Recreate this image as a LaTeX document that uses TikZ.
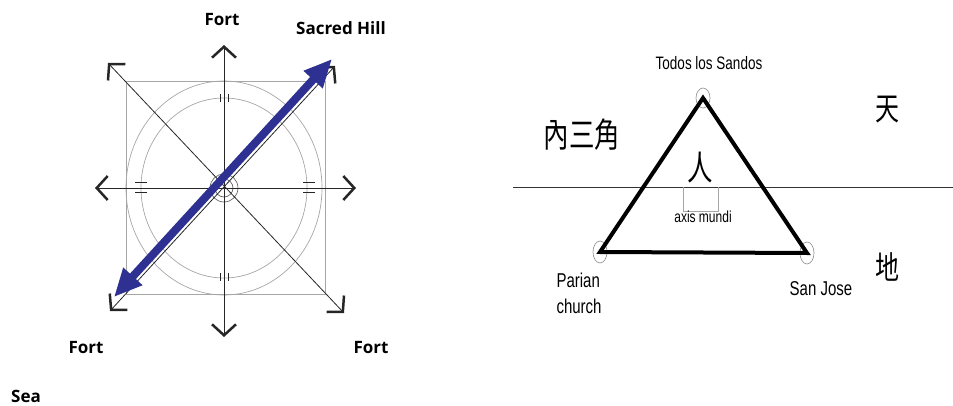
\documentclass[tikz,border=0pt]{standalone}
\usepackage{fontspec}
\setmainfont{Liberation Sans}
\newfontfamily\labelfont{Open Sans}
\newfontfamily\cjk{Noto Sans CJK TC}
\usetikzlibrary{arrows.meta,shapes.geometric}
\definecolor{hillblue}{RGB}{46,49,146}
\newcommand{\squeeze}[1]{\scalebox{0.75}[1]{#1}}

\begin{document}
\begin{tikzpicture}[x=1pt,y=-1pt,
  guide/.style={draw=black!35, line width=0.7pt},
  axisline/.style={draw=black!85, line width=0.8pt, <->},
  tick/.style={draw=black!85, line width=1pt},
  >={Straight Barb[length=11pt,width=24pt,line width=2.5pt]},
  hill/.style={draw=hillblue, line width=8pt, >={Triangle[length=28pt,width=24pt]}, <->},
  lbl/.style={font=\labelfont\bfseries\fontsize{17}{20}\selectfont},
  vertex/.style={ellipse, draw=black!40, line width=0.7pt, minimum width=14pt, minimum height=22pt, inner sep=0pt},
  tri/.style={draw, line width=4pt},
  word/.style={font=\fontsize{20}{26}\selectfont},
  han/.style={font=\cjk\fontsize{34}{34}\selectfont}]
\useasboundingbox (0,0) rectangle (953,406);

% compass
\coordinate (c) at (224,188);
\draw[guide] (126,81) rectangle (325,294);
\draw[guide] (c) ellipse [x radius=98, y radius=107];
\draw[guide] (c) ellipse [x radius=83, y radius=90];
\draw[guide, draw=black!60] (c) circle [radius=14] (c) circle [radius=9];
\coordinate (n) at (224,45);   \coordinate (s) at (224,337);
\coordinate (w) at (95,188);   \coordinate (e) at (356,188);
\coordinate (nw) at (108,63);  \coordinate (se) at (344,313);
\coordinate (ne) at (335,66);  \coordinate (sw) at (110,311);
\draw[axisline] (n) -- (s);
\draw[axisline] (w) -- (e);
\draw[axisline] (nw) -- (se);
\draw[axisline] (sw) -- (ne);
\foreach \y in {98,277} \draw[tick] (220,\y-4) -- (220,\y+4) (228,\y-4) -- (228,\y+4);
\foreach \x in {141,309} \draw[tick] (\x-6,183) -- (\x+6,183) (\x-6,193) -- (\x+6,193);
\coordinate (hillfoot) at (114,297); \coordinate (hilltop) at (332,59);
\draw[hill] (hillfoot) -- (hilltop);
\node[lbl] (fortn) at (222,20) {Fort};
\node[lbl] (hill) at (341,28) {Sacred Hill};
\node[lbl] (fortsw) at (86,348) {Fort};
\node[lbl] (fortse) at (371,348) {Fort};
\node[lbl] (sea) at (26,396) {Sea};

% triangle
\coordinate (horizonw) at (513,187); \coordinate (horizone) at (953,187);
\draw[draw=black!80, line width=0.9pt] (horizonw) -- (horizone);
\draw[guide] (683,187) |- (718,211) -- (718,187);
\node[vertex, minimum height=20pt] (todos) at (703,98) {};
\node[vertex] (parian) at (600,252) {};
\node[vertex] (sanjose) at (807,253) {};
\draw[tri] (todos.center) -- (parian.center) -- (sanjose.center) -- cycle;
\node[font=\fontsize{18}{20}\selectfont] (todoslbl) at (709,63) {\squeeze{Todos los Sandos}};
\node[font=\fontsize{16}{18}\selectfont] (mundi) at (703,217) {\squeeze{axis mundi}};
\node[word, anchor=west, align=left] (parianlbl) at (553,293) {\squeeze{Parian}\\\squeeze{church}};
\node[word] (sanjoselbl) at (821,289) {\squeeze{San Jose}};
\node[han] (inner) at (582,135) {\squeeze{內三角}};
\node[han] (ren) at (700,168) {\squeeze{人}};
\node[han, font=\cjk\fontsize{32}{32}\selectfont] (tian) at (887,110) {\squeeze{天}};
\node[han, font=\cjk\fontsize{32}{32}\selectfont] (di) at (887,267) {\squeeze{地}};
\end{tikzpicture}
\end{document}
